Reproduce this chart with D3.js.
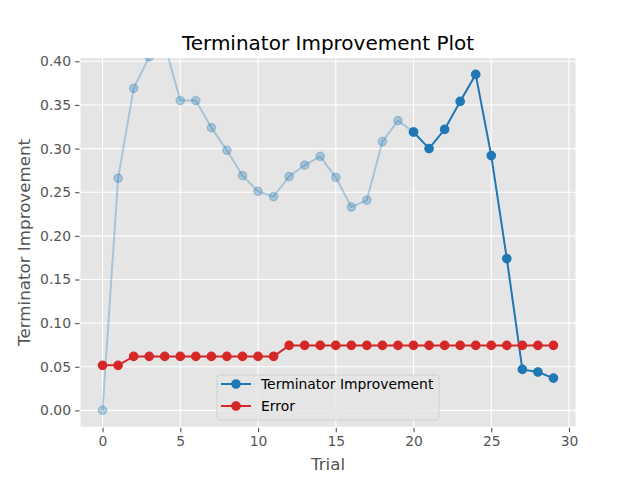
<!DOCTYPE html>
<html>
<head>
<meta charset="utf-8">
<script src="https://cdn.jsdelivr.net/npm/d3@7/dist/d3.min.js"></script>
<style>
  body { margin: 0; background: #fff; }
  svg { display: block; font-family: 'DejaVu Sans', sans-serif; }
</style>
</head>
<body>
<div id="chart"></div>
<script>
// trials 0..19 (faded history) and 20..29 (recent)
const pastTrials = d3.range(0, 20)
const pastImprovement = [0.000, 0.266, 0.369, 0.405, 0.419, 0.355, 0.355, 0.324, 0.298, 0.269,
  0.251, 0.245, 0.268, 0.281, 0.291, 0.267, 0.233, 0.241, 0.308, 0.332]
const recentTrials = d3.range(20, 30)
const recentImprovement = [0.319, 0.300, 0.322, 0.354, 0.385, 0.292, 0.174, 0.047, 0.044, 0.037]
const errorTrials = d3.range(0, 30)
const errorValues = [0.0516, 0.0516, 0.0619, 0.0619, 0.0619, 0.0619, 0.0619, 0.0619, 0.0619, 0.0619,
  0.0619, 0.0619, 0.0745, 0.0745, 0.0745, 0.0745, 0.0745, 0.0745, 0.0745, 0.0745,
  0.0745, 0.0745, 0.0745, 0.0745, 0.0745, 0.0745, 0.0745, 0.0745, 0.0745, 0.0745]
const xTicks = [0, 5, 10, 15, 20, 25, 30]
const yTicks = [0, 0.05, 0.1, 0.15, 0.2, 0.25, 0.3, 0.35, 0.4]
const legendLabels = ['Terminator Improvement', 'Error']

const W = 640
const H = 480
const margin = { top: 57.6, left: 80, right: 64, bottom: 52.8 }
const width = W - margin.left - margin.right
const height = H - margin.top - margin.bottom

const blue = '#1f77b4'
const red = '#d62728'

const svg = d3
  .select('#chart')
  .append('svg')
  .attr('width', W)
  .attr('height', H)

const g = svg
  .append('g')
  .attr('transform', 'translate(' + margin.left + ',' + margin.top + ')')

const x = d3.scaleLinear().domain([-1.45, 30.45]).range([0, width])
const y = d3.scaleLinear().domain([-0.01925, 0.40425]).range([height, 0])

g.append('rect')
  .attr('width', width)
  .attr('height', height)
  .attr('fill', '#e5e5e5')

// grid
g.selectAll('.xgrid')
  .data(xTicks)
  .enter()
  .append('line')
  .attr('x1', d => x(d))
  .attr('x2', d => x(d))
  .attr('y1', 0)
  .attr('y2', height)
  .attr('stroke', '#fff')
  .attr('stroke-width', 1.1)

g.selectAll('.ygrid')
  .data(yTicks)
  .enter()
  .append('line')
  .attr('y1', d => y(d))
  .attr('y2', d => y(d))
  .attr('x1', 0)
  .attr('x2', width)
  .attr('stroke', '#fff')
  .attr('stroke-width', 1.1)

// axes
const xAxis = g
  .append('g')
  .attr('transform', 'translate(0,' + height + ')')
  .call(d3.axisBottom(x).tickValues(xTicks).tickSize(5).tickPadding(4).tickFormat(d3.format('d')))
const yAxis = g
  .append('g')
  .call(d3.axisLeft(y).tickValues(yTicks).tickSize(5).tickPadding(4).tickFormat(d3.format('.2f')))

;[xAxis, yAxis].forEach(a => {
  a.select('.domain').remove()
  a.selectAll('line').attr('stroke', '#555555').attr('stroke-width', 1.1)
  a.selectAll('text')
    .attr('fill', '#555555')
    .style('font-size', '13.9px')
    .style('font-family', 'DejaVu Sans')
})

// clipping
svg.append('clipPath')
  .attr('id', 'clip')
  .append('rect')
  .attr('width', width)
  .attr('height', height)

const plot = g.append('g').attr('clip-path', 'url(#clip)')

function series(xs, ys, color, alpha) {
  const pts = xs.map((d, i) => [d, ys[i]])
  const line = d3.line().x(d => x(d[0])).y(d => y(d[1]))
  plot.append('path')
    .attr('d', line(pts))
    .attr('fill', 'none')
    .attr('stroke', color)
    .attr('stroke-opacity', alpha)
    .attr('stroke-width', 2)
  plot.append('g')
    .selectAll('circle')
    .data(pts)
    .enter()
    .append('circle')
    .attr('cx', d => x(d[0]))
    .attr('cy', d => y(d[1]))
    .attr('r', 4.17)
    .attr('fill', color)
    .attr('fill-opacity', alpha)
    .attr('stroke', color)
    .attr('stroke-opacity', alpha)
    .attr('stroke-width', 1.33)
}

// faded past line includes the link to the first recent point
series(pastTrials.concat([recentTrials[0]]), pastImprovement.concat([recentImprovement[0]]), blue, 0.3)
series(recentTrials, recentImprovement, blue, 1)
series(errorTrials, errorValues, red, 1)

// white axes edge
g.append('rect')
  .attr('width', width)
  .attr('height', height)
  .attr('fill', 'none')
  .attr('stroke', '#fff')
  .attr('stroke-width', 1)

// title and labels
svg.append('text')
  .attr('x', margin.left + width / 2)
  .attr('y', 50)
  .attr('text-anchor', 'middle')
  .style('font-size', '20px')
  .attr('fill', '#000')
  .text('Terminator Improvement Plot')

svg.append('text')
  .attr('x', margin.left + width / 2)
  .attr('y', 470)
  .attr('text-anchor', 'middle')
  .style('font-size', '16.7px')
  .attr('fill', '#555555')
  .text('Trial')

svg.append('text')
  .attr('transform', 'translate(30,' + (margin.top + height / 2) + ') rotate(-90)')
  .attr('text-anchor', 'middle')
  .style('font-size', '16.7px')
  .attr('fill', '#555555')
  .text('Terminator Improvement')

// legend
const legend = g.append('g').attr('transform', 'translate(' + (217 - margin.left) + ',' + (375 - margin.top) + ')')
legend.append('rect')
  .attr('width', 222)
  .attr('height', 45)
  .attr('rx', 3)
  .attr('fill', '#e5e5e5')
  .attr('fill-opacity', 0.8)
  .attr('stroke', '#cccccc')
  .attr('stroke-opacity', 0.8)

const colors = [blue, red]
legendLabels.forEach((label, i) => {
  const row = legend.append('g').attr('transform', 'translate(0,' + (9 + i * 22) + ')')
  row.append('line')
    .attr('x1', 4).attr('x2', 34)
    .attr('stroke', colors[i]).attr('stroke-width', 2)
  row.append('circle').attr('cx', 19).attr('r', 4.17)
    .attr('fill', colors[i]).attr('stroke', colors[i]).attr('stroke-width', 1.33)
  row.append('text')
    .attr('x', 44)
    .attr('dy', '0.35em')
    .style('font-size', '13.9px')
    .attr('fill', '#000')
    .text(label)
})
</script>
</body>
</html>
